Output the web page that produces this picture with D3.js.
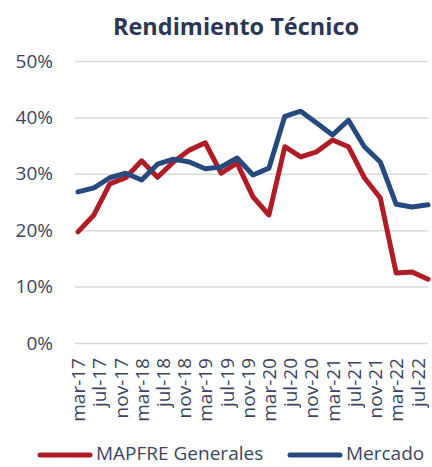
<!DOCTYPE html>
<html><head><meta charset="utf-8">
<script src="https://cdn.jsdelivr.net/npm/d3@7"></script>
<style>body{margin:0;background:#fff}svg{display:block}</style>
</head><body>
<script>
const months = ["ene","feb","mar","abr","may","jun","jul","ago","sep","oct","nov","dic"];
// quarterly observations, month offsets from mar-17
const periods = [0,3,6,9,12,15,18,21,24,27,30,33,36,39,42,45,48,51,54,57,60,63,66];
const mapfre = [19.7,22.7,28.2,29.3,32.3,29.4,32.1,34.2,35.5,30.1,31.9,25.9,22.7,34.8,33.0,33.9,36.0,34.8,29.3,25.7,12.4,12.6,11.3];
const mercado = [26.8,27.5,29.3,30.1,28.9,31.7,32.6,32.1,30.9,31.2,32.8,29.8,31.0,40.2,41.1,39.0,36.9,39.5,34.8,32.1,24.6,24.1,24.5];
const tickMonths = [0,4,8,12,16,20,24,28,32,36,40,44,48,52,56,60,64];
const yTicks = [0,10,20,30,40,50];
const seriesNames = ["MAPFRE Generales","Mercado"];
const colors = ["#B01C26","#264A7D"];

function label(off){ const m=(2+off)%12; const y=17+Math.floor((2+off)/12); return months[m]+"-"+y; }

const W=432,H=467;
const svg=d3.select("body").append("svg").attr("width",W).attr("height",H);
const font="'Open Sans', 'Noto Sans', sans-serif";
const txt="#3A4660";
const x=d3.scaleLinear().domain([0,66]).range([78,428]);
const y=d3.scaleLinear().domain([0,50]).range([343,61]);

svg.append("text").attr("x",236).attr("y",35).attr("text-anchor","middle")
 .attr("font-family",font).attr("font-weight","bold").attr("font-size",23.5).attr("fill","#2B3655").text("Rendimiento Técnico");

const ya=svg.append("g").attr("transform","translate(75,0)")
 .call(d3.axisLeft(y).tickValues(yTicks).tickSize(-353).tickFormat(d=>d+"%"));
ya.select(".domain").remove();
ya.selectAll(".tick line").attr("stroke","#D9D9D9").attr("stroke-width",1.5);
ya.selectAll(".tick text").attr("x",-22).attr("font-family",font).attr("font-size",19).attr("fill",txt);

const xa=svg.append("g").attr("transform","translate(0,343)")
 .call(d3.axisBottom(x).tickValues(tickMonths).tickSize(0).tickFormat(label));
xa.select(".domain").remove();
xa.selectAll(".tick text").attr("font-family",font).attr("font-size",19).attr("fill",txt)
 .attr("text-anchor","end").attr("transform","rotate(-90)").attr("x",-15).attr("y",0).attr("dy","0.35em");

const line=d3.line().x((d,i)=>x(periods[i])).y(d=>y(d));
[mapfre,mercado].forEach((s,k)=>{
 svg.append("path").datum(s).attr("d",line).attr("fill","none").attr("stroke",colors[k])
  .attr("stroke-width",5).attr("stroke-linejoin","round").attr("stroke-linecap","round");
});

const leg=[{x:38,tx:96},{x:288,tx:346}];
seriesNames.forEach((n,k)=>{
 svg.append("line").attr("x1",leg[k].x+2).attr("x2",leg[k].x+52).attr("y1",455).attr("y2",455)
  .attr("stroke",colors[k]).attr("stroke-width",5).attr("stroke-linecap","round");
 svg.append("text").attr("x",leg[k].tx).attr("y",460).attr("font-family",font).attr("font-size",19)
  .attr("fill",txt).text(n);
});
</script>
</body></html>
